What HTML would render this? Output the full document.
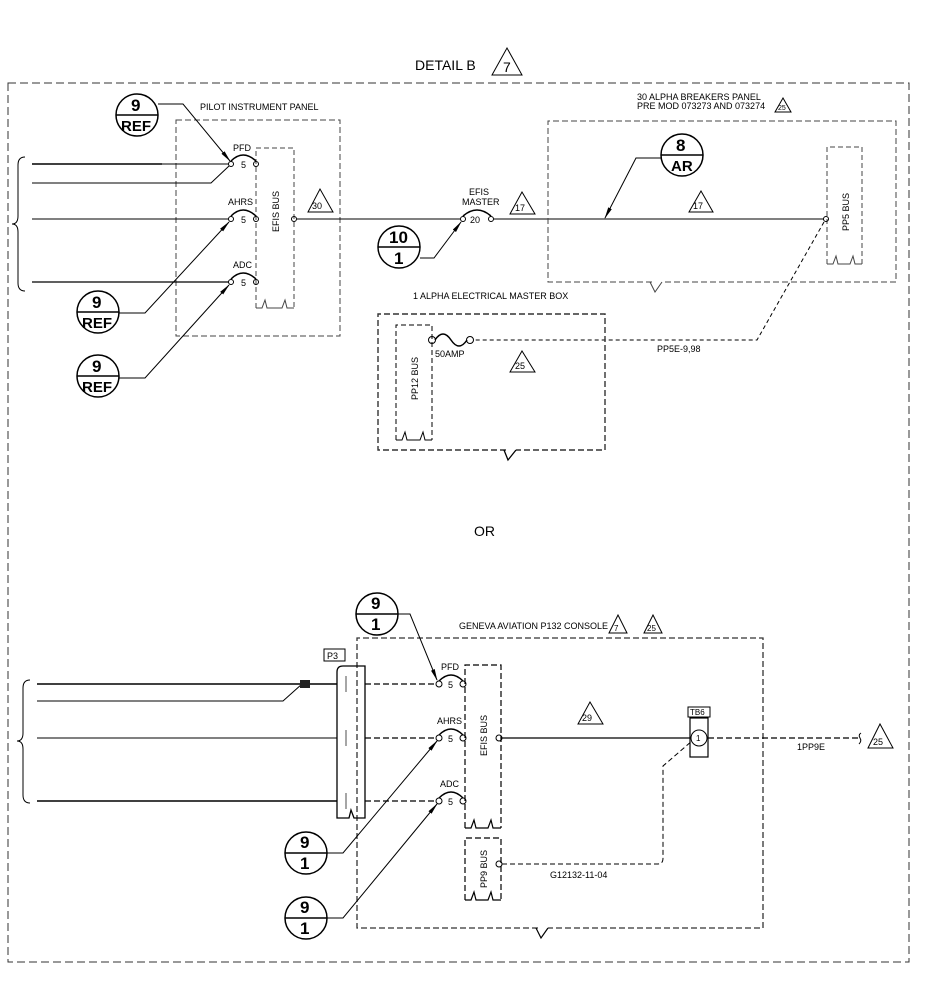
<!DOCTYPE html>
<html><head><meta charset="utf-8"><style>
html,body{margin:0;padding:0;background:#fff}
svg{display:block}
text{font-family:"Liberation Sans",sans-serif;fill:#000}
.s{font-size:9px}
.b{font-weight:bold;font-size:17px}
.r{font-weight:bold;font-size:15px}
</style></head><body>
<svg width="937" height="989" viewBox="0 0 937 989" xmlns="http://www.w3.org/2000/svg">
<defs>
<marker id="ar" markerWidth="12" markerHeight="6" refX="11" refY="3" orient="auto" markerUnits="userSpaceOnUse"><path d="M0,1 L12,3 L0,5 Z" fill="#000"/></marker>
</defs>
<g fill="none" stroke="#000" stroke-width="1">
<rect x="8" y="83" width="901" height="879" stroke-dasharray="8,4" stroke="#333"/>
</g>
<text x="415" y="70" font-size="14">DETAIL B</text>
<path d="M492,75 L507,48 L522,75 Z" fill="none" stroke="#000"/>
<text x="503" y="72" font-size="14">7</text>

<!-- ===== TOP ===== -->
<g fill="none" stroke="#000" stroke-width="1">
<rect x="176" y="120" width="164" height="216" stroke-dasharray="6,3" stroke="#444"/>
<path d="M256,308 V148 H294 V308" stroke-dasharray="5,3" stroke="#444"/>
<path d="M256,308 H262 L265,300 L267,308 H282 L285,300 L287,308 H294" stroke="#444"/>
<path d="M25,157 Q18,157 18,165 V216 Q18,224 12,224 Q18,224 18,232 V283 Q18,291 25,291"/>
<line x1="32" y1="164" x2="162" y2="164" stroke-width="1.6"/>
<line x1="162" y1="164" x2="229" y2="164"/>
<path d="M32,183 H211 L229,166"/>
<line x1="32" y1="219" x2="229" y2="219"/>
<line x1="32" y1="282" x2="229" y2="282" stroke-width="1.3"/>
<circle cx="231" cy="164" r="2.5"/><circle cx="256" cy="164" r="2.5"/><path d="M231,161 Q243,149 256,161" stroke-width="1.5"/>
<circle cx="231" cy="219" r="2.5"/><circle cx="256" cy="219" r="2.5"/><path d="M231,216 Q243,204 256,216" stroke-width="1.5"/>
<circle cx="231" cy="282" r="2.5"/><circle cx="256" cy="282" r="2.5"/><path d="M231,279 Q243,267 256,279" stroke-width="1.5"/>
<circle cx="294" cy="219" r="2.5"/>
<line x1="297" y1="219" x2="460" y2="219"/>
<path d="M308,212 L320,189 L333,212 Z"/>
<circle cx="137" cy="115" r="21" stroke-width="1.5"/><line x1="116" y1="115" x2="158" y2="115" stroke-width="1.5"/>
<path d="M158,104 H183 L230,161" marker-end="url(#ar)"/>
<circle cx="98" cy="312" r="21" stroke-width="1.5"/><line x1="77" y1="312" x2="119" y2="312" stroke-width="1.5"/>
<path d="M119,313 H145 L229,222" marker-end="url(#ar)"/>
<circle cx="98" cy="376" r="21" stroke-width="1.5"/><line x1="77" y1="376" x2="119" y2="376" stroke-width="1.5"/>
<path d="M119,378 H145 L229,285" marker-end="url(#ar)"/>
<circle cx="463" cy="219" r="2.5"/><circle cx="491" cy="219" r="2.5"/><path d="M463,216 Q477,204 491,216" stroke-width="1.5"/>
<line x1="494" y1="219" x2="824" y2="219"/>
<path d="M510,214 L522,192 L535,214 Z"/>
<circle cx="399" cy="247" r="21" stroke-width="1.5"/><line x1="378" y1="247" x2="420" y2="247" stroke-width="1.5"/>
<path d="M420,258 H434 L461,222" marker-end="url(#ar)"/>
<path d="M652,282 H548 V121 H896 V282 H662" stroke-dasharray="6,3" stroke="#444"/>
<path d="M650,282 L655,292 L662,282" stroke="#444"/>
<path d="M827,264 V147 H862 V264" stroke-dasharray="5,3" stroke="#444"/>
<path d="M827,264 H833 L836,256 L838,264 H850 L853,256 L855,264 H862" stroke="#444"/>
<circle cx="826" cy="219" r="2.5"/>
<path d="M689,212 L701,191 L713,212 Z"/>
<circle cx="682" cy="155" r="21" stroke-width="1.5"/><line x1="661" y1="155" x2="703" y2="155" stroke-width="1.5"/>
<path d="M661,158 H636 L605,218" marker-end="url(#ar)"/>
<path d="M824,222 L757,340 H473" stroke-dasharray="4,3"/>
<path d="M506,450 H378 V314 H605 V450 H516" stroke-dasharray="6,3" stroke-width="1.4" stroke="#333"/>
<path d="M504,450 L508,460 L516,450" stroke-width="1.3"/>
<path d="M396,440 V325 H432 V440" stroke-dasharray="5,3"/>
<path d="M396,440 H402 L405,432 L407,440 H420 L423,432 L425,440 H432"/>
<circle cx="432" cy="340" r="3.5"/><circle cx="470" cy="340" r="3.5"/>
<path d="M435,340 Q443,328 451,340 Q459,352 467,340" stroke-width="1.5"/>
<path d="M510,372 L522,351 L535,372 Z"/>
</g>
<g class="s">
<text x="200" y="110">PILOT INSTRUMENT PANEL</text>
<text x="233" y="151">PFD</text><text x="241" y="168">5</text>
<text x="228" y="205">AHRS</text><text x="241" y="223">5</text>
<text x="233" y="268">ADC</text><text x="241" y="286">5</text>
<text transform="translate(279,232) rotate(-90)">EFIS BUS</text>
<text x="312" y="209">30</text>
<text x="469" y="195">EFIS</text><text x="462" y="205">MASTER</text>
<text x="470" y="223">20</text>
<text x="515" y="211">17</text>
<text x="637" y="100">30 ALPHA BREAKERS PANEL</text>
<text x="637" y="109">PRE MOD 073273 AND 073274</text>
<text x="693" y="209">17</text>
<text transform="translate(849,231) rotate(-90)">PP5 BUS</text>
<text x="413" y="299">1 ALPHA ELECTRICAL MASTER BOX</text>
<text x="435" y="357">50AMP</text>
<text x="515" y="369">25</text>
<text x="657" y="352">PP5E-9,98</text>
<text transform="translate(418,400) rotate(-90)">PP12 BUS</text>
</g>
<path d="M775,112 L783,98 L791,112 Z" fill="none" stroke="#000"/>
<text x="778" y="110" font-size="7">25</text>
<text class="b" x="131" y="111">9</text><text class="r" x="121" y="131">REF</text>
<text class="b" x="92" y="308">9</text><text class="r" x="82" y="328">REF</text>
<text class="b" x="92" y="372">9</text><text class="r" x="82" y="392">REF</text>
<text class="b" x="389" y="243">10</text><text class="b" x="394" y="264">1</text>
<text class="b" x="676" y="151">8</text><text class="r" x="671" y="171">AR</text>

<text x="474" y="536" font-size="14">OR</text>

<!-- ===== BOTTOM ===== -->
<g fill="none" stroke="#000" stroke-width="1">
<path d="M538,928 H357 V638 H763 V928 H548" stroke-dasharray="6,3" stroke-width="1.3" stroke="#333"/>
<path d="M536,928 L541,938 L548,928" stroke-width="1.2"/>
<path d="M609,633 L618,615 L627,633 Z"/><path d="M644,633 L653,615 L662,633 Z"/>
<rect x="324" y="649" width="21" height="12"/>
<path d="M337,818 V672 Q337,666 343,666 H365 V818 H354 L351,810 L349,818 Z" stroke-width="1.3"/>
<line x1="346" y1="676" x2="346" y2="692" stroke-width="0.7"/>
<line x1="346" y1="730" x2="346" y2="746" stroke-width="0.7"/>
<line x1="346" y1="793" x2="346" y2="809" stroke-width="0.7"/>
<path d="M30,680 Q23,680 23,688 V733 Q23,741 17,741 Q23,741 23,749 V795 Q23,803 30,803"/>
<line x1="37" y1="684" x2="337" y2="684" stroke-width="1.6"/>
<path d="M37,701 H283 L302,684"/>
<line x1="37" y1="738" x2="337" y2="738"/>
<line x1="37" y1="801" x2="337" y2="801" stroke-width="1.4"/>
<line x1="365" y1="684" x2="436" y2="684" stroke-dasharray="6,3" stroke-width="1.3"/>
<line x1="365" y1="738" x2="436" y2="738" stroke-dasharray="6,3" stroke-width="1.3"/>
<line x1="365" y1="801" x2="436" y2="801" stroke-dasharray="6,3" stroke-width="1.3"/>
<circle cx="439" cy="684" r="3"/><circle cx="463" cy="684" r="3"/><path d="M439,681 Q451,669 463,681" stroke-width="1.5"/>
<circle cx="439" cy="738" r="3"/><circle cx="463" cy="738" r="3"/><path d="M439,735 Q451,723 463,735" stroke-width="1.5"/>
<circle cx="439" cy="801" r="3"/><circle cx="463" cy="801" r="3"/><path d="M439,798 Q451,786 463,798" stroke-width="1.5"/>
<path d="M465,828 V665 H501 V828" stroke-dasharray="6,3" stroke-width="1.2"/>
<path d="M465,828 H471 L474,820 L476,828 H488 L491,820 L493,828 H501" stroke-width="1.2"/>
<path d="M465,900 V838 H501 V900" stroke-dasharray="6,3" stroke-width="1.2"/>
<path d="M465,900 H471 L474,892 L476,900 H488 L491,892 L493,900 H501" stroke-width="1.2"/>
<circle cx="499" cy="738" r="3"/>
<line x1="502" y1="738" x2="690" y2="738" stroke-width="1.2"/>
<path d="M578,724 L590,702 L603,724 Z"/>
<rect x="688" y="707" width="22" height="10"/>
<rect x="690" y="718" width="18" height="39" stroke-width="1.2"/>
<circle cx="699" cy="738" r="8"/>
<line x1="708" y1="738" x2="858" y2="738" stroke-dasharray="6,3" stroke-width="1.3"/>
<path d="M861,733 Q858,735 860,738 Q862,741 859,744"/>
<path d="M868,748 L880,724 L893,748 Z"/>
<circle cx="499" cy="864" r="3"/>
<path d="M502,864 H658 Q663,864 663,858 V766 L692,741" stroke-dasharray="5,3"/>
<circle cx="377" cy="614" r="21" stroke-width="1.5"/><line x1="356" y1="614" x2="398" y2="614" stroke-width="1.5"/>
<path d="M398,614 H410 L437,680" marker-end="url(#ar)"/>
<circle cx="306" cy="853" r="21" stroke-width="1.5"/><line x1="285" y1="853" x2="327" y2="853" stroke-width="1.5"/>
<path d="M327,853 H343 L437,741" marker-end="url(#ar)"/>
<circle cx="306" cy="918" r="21" stroke-width="1.5"/><line x1="285" y1="918" x2="327" y2="918" stroke-width="1.5"/>
<path d="M327,918 H343 L437,804" marker-end="url(#ar)"/>
</g>
<rect x="300" y="680" width="10" height="8" fill="#222"/>
<g class="s">
<text x="459" y="629">GENEVA AVIATION P132 CONSOLE</text>
<text x="614" y="631" font-size="8">7</text><text x="647" y="631" font-size="8">25</text>
<text x="327" y="659">P3</text>
<text x="441" y="670">PFD</text><text x="448" y="688">5</text>
<text x="437" y="724">AHRS</text><text x="448" y="742">5</text>
<text x="440" y="787">ADC</text><text x="448" y="805">5</text>
<text transform="translate(487,756) rotate(-90)">EFIS BUS</text>
<text transform="translate(487,888) rotate(-90)">PP9 BUS</text>
<text x="582" y="721">29</text>
<text x="690" y="715" font-size="8">TB6</text>
<text x="696" y="741" font-size="8">1</text>
<text x="797" y="750">1PP9E</text>
<text x="873" y="745">25</text>
<text x="550" y="878">G12132-11-04</text>
</g>
<text class="b" x="371" y="609">9</text><text class="b" x="371" y="630">1</text>
<text class="b" x="300" y="848">9</text><text class="b" x="300" y="869">1</text>
<text class="b" x="300" y="913">9</text><text class="b" x="300" y="934">1</text>
</svg>
</body></html>
